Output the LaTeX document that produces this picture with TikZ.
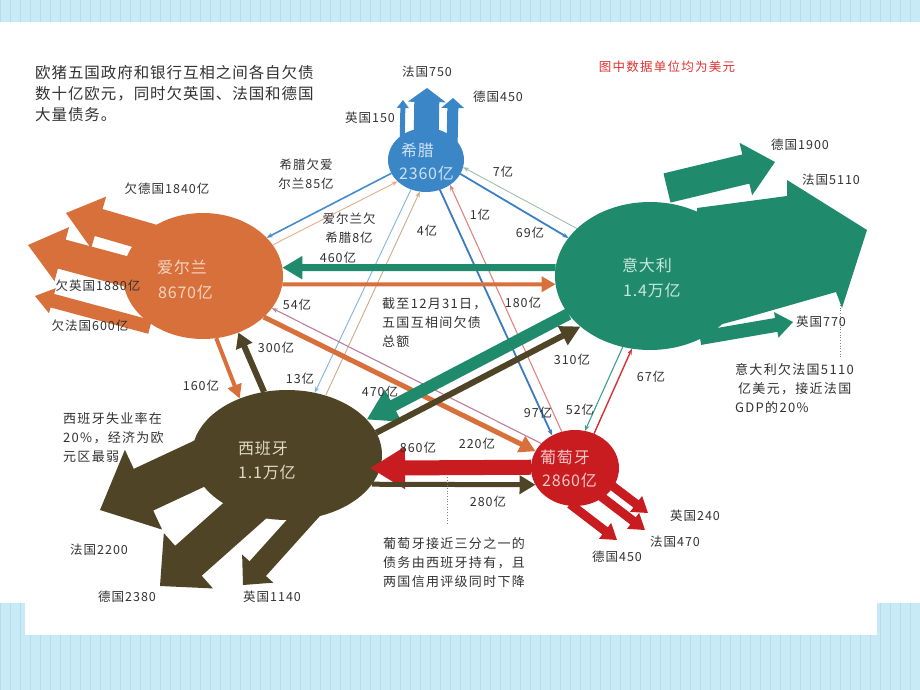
\documentclass[tikz,border=0pt]{standalone}
\usepackage{fontspec}
\setmainfont{Noto Sans CJK SC}[LetterSpace=8]
\newfontfamily\parafont{Noto Sans CJK SC}[LetterSpace=10]
\newfontfamily\topfont{Noto Sans CJK SC}[LetterSpace=6]
\newfontfamily\cfont{Noto Sans CJK SC}[LetterSpace=5]
\usetikzlibrary{arrows.meta,shapes.geometric}
\definecolor{grb}{RGB}{58,134,199}
\definecolor{iro}{RGB}{216,112,60}
\definecolor{itg}{RGB}{32,138,108}
\definecolor{spo}{RGB}{80,68,38}
\definecolor{ptr}{RGB}{200,28,32}
\definecolor{bgblue}{RGB}{200,234,247}
\definecolor{gridblue}{RGB}{178,220,240}
\definecolor{labgray}{RGB}{50,50,50}
\definecolor{notered}{RGB}{225,50,50}
\definecolor{grtext}{RGB}{205,225,244}
\definecolor{irtext}{RGB}{246,212,192}
\definecolor{ittext}{RGB}{200,232,220}
\definecolor{sptext}{RGB}{226,218,200}
\definecolor{pttext}{RGB}{246,200,200}
\definecolor{c85}{RGB}{70,140,205}
\definecolor{c8}{RGB}{236,172,140}
\definecolor{c13}{RGB}{130,180,225}
\definecolor{c4}{RGB}{205,170,140}
\definecolor{c97}{RGB}{60,122,190}
\definecolor{c1}{RGB}{226,130,130}
\definecolor{c69}{RGB}{62,128,196}
\definecolor{c7}{RGB}{160,192,170}
\definecolor{c54}{RGB}{192,125,155}
\definecolor{c52}{RGB}{60,160,140}
\definecolor{c67}{RGB}{212,50,50}
\newcommand{\blockarrow}[8]{%
  \pgfmathsetmacro\bdx{#4-#2}%
  \pgfmathsetmacro\bdy{#3-#5}%
  \pgfmathsetmacro\blen{veclen(\bdx,\bdy)}%
  \pgfmathsetmacro\bang{atan2(\bdy,\bdx)}%
  \pgfmathsetmacro\bneck{\blen-#8}%
  \fill[#1,shift={(#2,#3)},rotate=\bang] (0,#6) -- (\bneck,#6) -- (\bneck,#7) -- (\blen,0) -- (\bneck,-#7) -- (\bneck,-#6) -- (0,-#6) -- cycle;}
\begin{document}
\begin{tikzpicture}[x=1pt,y=-1pt,
  country/.style={ellipse, inner sep=0pt, outer sep=0pt},
  lab/.style={inner sep=0pt, font=\fontsize{12.5}{19}\selectfont, text=labgray},
  para/.style={inner sep=0pt, anchor=west, align=left, font=\parafont\fontsize{13}{19}\selectfont, text=labgray},
  ctxt/.style={inner sep=0pt, anchor=west, font=\cfont\fontsize{16}{18}\selectfont},
  thinarr/.style={-{Stealth[length=6pt,width=4.5pt]}}]
\useasboundingbox (0,0) rectangle (920,690);
% background
\fill[bgblue] (0,0) rectangle (920,690);
\foreach \i in {0,10,...,920} \draw[gridblue, line width=0.5pt] (\i,0) -- (\i,690);
\foreach \j in {-300,40,...,690} \draw[gridblue, line width=0.4pt] (0,\j) -- (920,\j+120);
\fill[white] (0,22) rectangle (920,603);
\fill[white] (25,600) rectangle (877,635);

% block arrows: Greece
\blockarrow{grb}{426}{150}{427}{88}{12.5}{19}{14}
\blockarrow{grb}{452}{150}{453}{98}{5.5}{11.5}{10}
\blockarrow{grb}{402}{150}{403}{100}{2.5}{6}{8}
% Ireland
\blockarrow{iro}{200}{252}{66}{213}{14}{27}{34}
\blockarrow{iro}{195}{290}{28}{245}{15}{28}{35}
\blockarrow{iro}{150}{327}{35}{296}{7}{13}{18}
% Italy
\blockarrow{itg}{667}{188}{775}{162}{15}{27}{30}
\fill[itg] (697,208) -- (787,196) -- (787,180) -- (867,230) -- (842,308) -- (836,292) -- (745,318) -- (700,330) -- cycle;
\blockarrow{itg}{700}{338}{793}{322}{7}{13}{17}
% Spain
\blockarrow{spo}{250}{440}{100}{510}{23}{44}{48}
\blockarrow{spo}{285}{475}{160}{586}{20}{37}{38}
\blockarrow{spo}{315}{505}{243}{585}{11}{21}{22}
% Portugal
\blockarrow{ptr}{598}{475}{648}{513}{4.5}{10}{15}
\blockarrow{ptr}{590}{488}{645}{530}{4.5}{10}{15}
\blockarrow{ptr}{570}{504}{617}{540}{4.5}{10}{15}

% countries
\node[country, fill=grb, minimum width=76pt, minimum height=64pt] (gr) at (426,160) {};
\node[country, fill=iro, minimum width=160pt, minimum height=126pt] (ir) at (203,276) {};
\node[country, fill=itg, minimum width=190pt, minimum height=148pt] (it) at (650,276) {};
\node[country, fill=spo, minimum width=190pt, minimum height=130pt] (sp) at (287,455) {};
\node[country, fill=ptr, minimum width=88pt, minimum height=76pt] (pt) at (575,468) {};

% thin connectors
\draw[thinarr, c85, line width=1.6pt] (gr.201) -- (ir.31);
\draw[thinarr, c8, line width=0.9pt] (ir.24) -- (gr.217);
\draw[thinarr, c13, line width=0.9pt] (gr.243) -- (sp.66);
\draw[thinarr, c4, line width=0.9pt] (sp.57) -- (gr.259);
\draw[thinarr, c97, line width=1.8pt] (gr.295) -- (pt.125);
\draw[thinarr, c1, line width=1.1pt] (pt.110) -- (gr.314);
\draw[thinarr, c69, line width=1.8pt] (gr.338) -- (it.155);
\draw[thinarr, c7, line width=0.9pt] (it.147) -- (gr.349);
\draw[thinarr, c54, line width=1.1pt] (pt.144) -- (ir.335);
\draw[thinarr, c52, line width=1.1pt] (it.249) -- (pt.75);
\draw[thinarr, c67, line width=1.4pt] (pt.61) -- (it.256);

% thick connectors
\draw[iro, line width=4pt, -{Triangle[width=15pt,length=14pt]}] (ir.354) -- (it.185);
\draw[itg, line width=7pt, -{Triangle[width=22pt,length=20pt]}] (it.175) -- (ir.6);
\draw[iro, line width=4pt, -{Triangle[width=14pt,length=14pt]}] (ir.282) -- (sp.130);
\draw[spo, line width=6pt, -{Triangle[width=17pt,length=15pt]}] (sp.110) -- (ir.302);
\draw[iro, line width=5pt, -{Triangle[width=17pt,length=16pt]}] (ir.326) -- (pt.157);
\draw[itg, line width=12pt, -{Triangle[width=34pt,length=30pt]}] (it.205) -- (sp.24);
\draw[spo, line width=6pt, -{Triangle[width=20pt,length=20pt]}] (sp.14) -- (it.216);
\draw[ptr, line width=15pt, -{Triangle[width=40pt,length=35pt]}, shorten >=-10pt] (pt.179) -- (sp.352);
\draw[spo, line width=5pt, -{Triangle[width=18pt,length=16pt]}] (sp.341) -- (pt.203);

% dotted note lines
\coordinate (d1a) at (447,477);
\coordinate (d1b) at (447,523);
\draw[gray, dotted, line width=0.7pt] (d1a) -- (d1b);
\coordinate (d2a) at (840,305);
\coordinate (d2b) at (840,358);
\draw[gray, dotted, line width=0.7pt] (d2a) -- (d2b);

% country texts
\node[ctxt, text=grtext] (tgr1) at (401,150) {希腊};
\node[ctxt, text=grtext] (tgr2) at (399,173) {2360亿};
\node[ctxt, text=irtext] (tir1) at (157,267) {爱尔兰};
\node[ctxt, text=irtext] (tir2) at (158,292) {8670亿};
\node[ctxt, text=ittext] (tit1) at (622,265) {意大利};
\node[ctxt, text=ittext] (tit2) at (623,290) {1.4万亿};
\node[ctxt, text=sptext] (tsp1) at (238,448) {西班牙};
\node[ctxt, text=sptext] (tsp2) at (238,472) {1.1万亿};
\node[ctxt, text=pttext] (tpt1) at (540,457) {葡萄牙};
\node[ctxt, text=pttext] (tpt2) at (542,480) {2860亿};

% labels
\node[lab] (l750) at (427,72) {法国750};
\node[lab] (l450g) at (498,97) {德国450};
\node[lab] (l150) at (370,118) {英国150};
\node[lab, text=notered, font=\parafont\fontsize{12.5}{19}\selectfont] (lnote) at (667,67) {图中数据单位均为美元};
\node[lab, align=center] (l85) at (306,174) {希腊欠爱\\尔兰85亿};
\node[lab, align=center] (l8) at (349,228) {爱尔兰欠\\希腊8亿};
\node[lab] (l7) at (503,172) {7亿};
\node[lab] (l4) at (427,231) {4亿};
\node[lab] (l1) at (480,215) {1亿};
\node[lab] (l69) at (530,233) {69亿};
\node[lab] (l460) at (338,258) {460亿};
\node[lab] (l54) at (297,305) {54亿};
\node[lab] (l180) at (523,303) {180亿};
\node[lab] (l300) at (276,348) {300亿};
\node[lab] (l13) at (300,379) {13亿};
\node[lab] (l470) at (380,392) {470亿};
\node[lab] (l160) at (201,386) {160亿};
\node[lab] (l310) at (572,360) {310亿};
\node[lab] (l67) at (651,377) {67亿};
\node[lab] (l97) at (538,413) {97亿};
\node[lab] (l52) at (580,410) {52亿};
\node[lab] (l860) at (418,448) {860亿};
\node[lab] (l220) at (477,444) {220亿};
\node[lab] (l280) at (488,502) {280亿};
\node[lab] (l1840) at (167,189) {欠德国1840亿};
\node[lab] (l1880) at (98,286) {欠英国1880亿};
\node[lab] (l600) at (90,326) {欠法国600亿};
\node[lab] (l1900) at (800,145) {德国1900};
\node[lab] (l5110) at (831,180) {法国5110};
\node[lab] (l770) at (821,322) {英国770};
\node[lab] (l240) at (695,516) {英国240};
\node[lab] (l470p) at (675,542) {法国470};
\node[lab] (l450p) at (617,557) {德国450};
\node[lab] (l2200) at (99,550) {法国2200};
\node[lab] (l2380) at (127,597) {德国2380};
\node[lab] (l1140) at (272,597) {英国1140};

% paragraphs
\node[para, font=\topfont\fontsize{15.5}{21}\selectfont] (ptop) at (35,94) {欧猪五国政府和银行互相之间各自欠债\\数十亿欧元，同时欠英国、法国和德国\\大量债务。};
\node[para] (nsp) at (63,438) {西班牙失业率在\\20\%，经济为欧\\元区最弱};
\node[para] (ntot) at (382,323) {截至12月31日，\\五国互相间欠债\\总额};
\node[para] (npt) at (383,563) {葡萄牙接近三分之一的\\债务由西班牙持有，且\\两国信用评级同时下降};
\node[para] (nit) at (735,388) {意大利欠法国5110\\\kern3pt 亿美元，接近法国\\GDP的20\%};
\end{tikzpicture}
\end{document}
